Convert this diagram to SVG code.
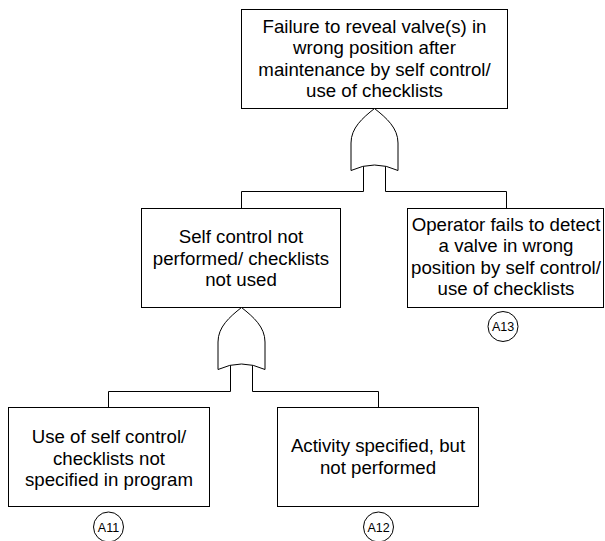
<svg xmlns="http://www.w3.org/2000/svg" width="605" height="541" viewBox="0 0 605 541">
<style>
.box{fill:#fff;stroke:#000;stroke-width:1}
.gate{fill:#fff;stroke:#000;stroke-width:1}
.conn{fill:none;stroke:#000;stroke-width:1}
.circ{fill:#fff;stroke:#000;stroke-width:1}
text{font-family:"Liberation Sans",Arial,Helvetica,sans-serif;fill:#000;text-anchor:middle}
.t{font-size:18.67px}
.c{font-size:12.5px}
</style>
<defs>
<path id="orgate" d="M0,0 C-12,9.5 -23.5,19.5 -23.5,34.5 L-23.5,62 Q0,51 23.5,62 L23.5,34.5 C23.5,19.5 12,9.5 0,0 Z"/>
</defs>
<rect width="605" height="541" fill="#fff"/>
<g id="connectors">
<path class="conn" d="M241.5,208.5 V191.5 H363.5 V166.2 M385.5,166.2 V191.5 H506.5 V208.5"/>
<path class="conn" d="M108.5,407.5 V391.5 H230.5 V365.2 M252.5,365.2 V391.5 H378.5 V407.5"/>
</g>
<g id="top">
<rect class="box" x="241.5" y="9.5" width="266" height="99"/>
<text class="t"><tspan x="374.5" y="32.5">Failure to reveal valve(s) in</tspan><tspan x="374.5" y="54">wrong position after</tspan><tspan x="374.5" y="75.5">maintenance by self control/</tspan><tspan x="374.5" y="97">use of checklists</tspan></text>
</g>
<g id="gate1"><use href="#orgate" class="gate" transform="translate(374.5,108.5)"/></g>
<g id="selfcontrol">
<rect class="box" x="141.5" y="208.5" width="199" height="99"/>
<text class="t"><tspan x="241" y="243">Self control not</tspan><tspan x="241" y="264.5">performed/ checklists</tspan><tspan x="241" y="286">not used</tspan></text>
</g>
<g id="operator">
<rect class="box" x="407.5" y="208.5" width="196" height="99"/>
<text class="t"><tspan x="506" y="230.5">Operator fails to detect</tspan><tspan x="506" y="252">a valve in wrong</tspan><tspan x="506" y="273.5">position by self control/</tspan><tspan x="506" y="295">use of checklists</tspan></text>
</g>
<g id="A13">
<circle class="circ" cx="503" cy="326.5" r="15"/>
<text class="c" x="503" y="331">A13</text>
</g>
<g id="gate2"><use href="#orgate" class="gate" transform="translate(241.5,307.5)"/></g>
<g id="notspecified">
<rect class="box" x="8.5" y="407.5" width="201" height="99"/>
<text class="t"><tspan x="109" y="443">Use of self control/</tspan><tspan x="109" y="464.5">checklists not</tspan><tspan x="109" y="486">specified in program</tspan></text>
</g>
<g id="notperformed">
<rect class="box" x="277.5" y="407.5" width="201" height="99"/>
<text class="t"><tspan x="378" y="452">Activity specified, but</tspan><tspan x="378" y="473.5">not performed</tspan></text>
</g>
<g id="A11">
<circle class="circ" cx="108.5" cy="527" r="15"/>
<text class="c" x="108.5" y="531.5">A11</text>
</g>
<g id="A12">
<circle class="circ" cx="378.5" cy="527" r="15"/>
<text class="c" x="378.5" y="531.5">A12</text>
</g>
</svg>
